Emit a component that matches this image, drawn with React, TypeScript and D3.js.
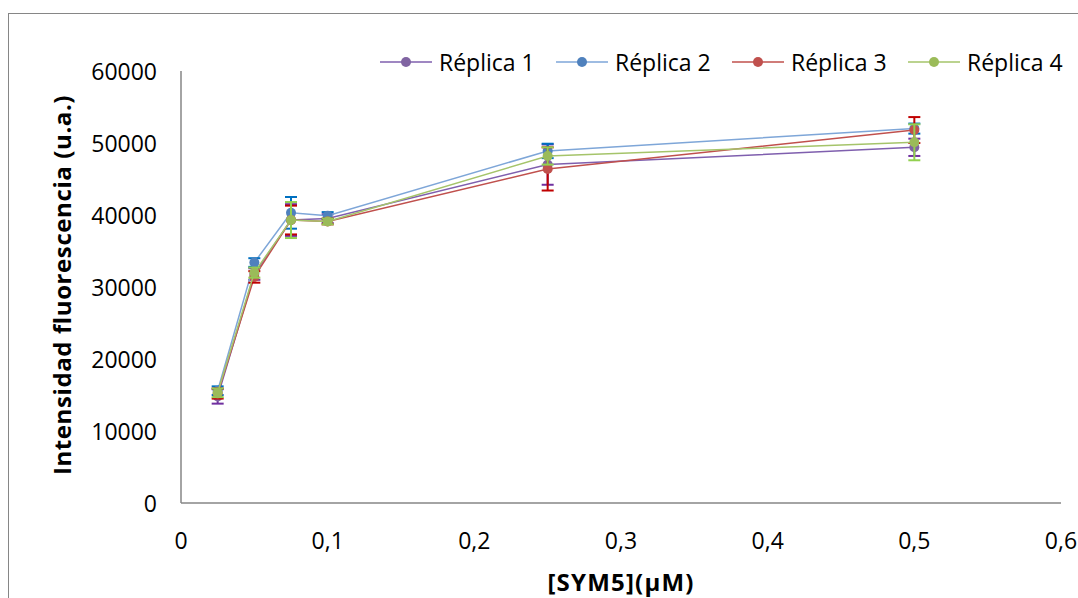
import React from "react";
import * as d3 from "d3";

const xValues = [0.025, 0.05, 0.075, 0.1, 0.25, 0.5];
const seriesNames = ["Réplica 1", "Réplica 2", "Réplica 3", "Réplica 4"];
const replica1 = [14800, 31800, 39300, 39500, 47000, 49400];
const replica2 = [15600, 33400, 40300, 39900, 48900, 52000];
const replica3 = [15200, 31400, 39300, 39100, 46400, 51800];
const replica4 = [15300, 32000, 39300, 39100, 48200, 50100];
const err1 = [1000, 800, 2200, 600, 2800, 1200];
const err2 = [600, 600, 2200, 500, 1000, 700];
const err3 = [700, 800, 2000, 400, 3000, 1800];
const err4 = [600, 700, 2500, 400, 1200, 2500];
const xTicks = [0, 0.1, 0.2, 0.3, 0.4, 0.5, 0.6];
const yTicks = [0, 10000, 20000, 30000, 40000, 50000, 60000];

const lineColors = ["#8064A2", "#4F81BD", "#C0504D", "#9BBB59"];
const strokeColors = ["#7F5FAE", "#7EA6D8", "#C0504D", "#A5C46A"];
const errColors = ["#7030A0", "#0070C0", "#C00000", "#92D050"];

const FONT = "'Open Sans', sans-serif";

export default function App() {
  const W = 1078, H = 598;
  const x = d3.scaleLinear().domain([0, 0.6]).range([181, 1061]);
  const y = d3.scaleLinear().domain([0, 60000]).range([503, 71]);
  const allVals = [replica1, replica2, replica3, replica4];
  const allErr = [err1, err2, err3, err4];
  const line = d3.line<[number, number]>().x(d => x(d[0])).y(d => y(d[1]));
  const fmtX = (v: number) => (v === 0 ? "0" : d3.format(".1f")(v).replace(".", ","));

  return (
    <svg width={W} height={H} style={{ position: "absolute", left: 0, top: 0, background: "#fff" }}>
      <rect x={0} y={0} width={W} height={H} fill="#fff" />
      <rect x={8.5} y={13.5} width={1100} height={620} fill="none" stroke="#868686" strokeWidth={1} />
      {/* axes */}
      <line x1={181} x2={181} y1={y(60000)} y2={y(0)} stroke="#868686" strokeWidth={1.5} />
      <line x1={181} x2={1061} y1={y(0)} y2={y(0)} stroke="#868686" strokeWidth={1.5} />
      {yTicks.map(t => (
        <text key={"y" + t} x={157} y={y(t)} textAnchor="end" dominantBaseline="central" fontFamily={FONT} fontSize={23} fill="#000">{t}</text>
      ))}
      {xTicks.map(t => (
        <text key={"x" + t} x={x(t)} y={540} textAnchor="middle" dominantBaseline="central" fontFamily={FONT} fontSize={23} fill="#000">{fmtX(t)}</text>
      ))}
      <text x={x(0.3)} y={581} textAnchor="middle" dominantBaseline="central" fontFamily={FONT} fontSize={24} letterSpacing={1.2} fontWeight="bold" fill="#000">[SYM5](µM)</text>
      <text transform={`translate(61,${y(30000) - 2}) rotate(-90)`} textAnchor="middle" dominantBaseline="central" fontFamily={FONT} fontSize={24} letterSpacing={0.6} fontWeight="bold" fill="#000">Intensidad fluorescencia (u.a.)</text>
      {/* series */}
      {allVals.map((vals, si) => {
        const pts: [number, number][] = xValues.map((xv, i) => [xv, vals[i]]);
        return (
          <g key={"s" + si}>
            <path d={line(pts) || ""} fill="none" stroke={strokeColors[si]} strokeWidth={1.5} />
            {pts.map((p, i) => {
              const e = allErr[si][i];
              const cx = x(p[0]);
              return (
                <g key={"e" + i} stroke={errColors[si]} strokeWidth={2}>
                  <line x1={cx} x2={cx} y1={y(p[1] - e)} y2={y(p[1] + e)} />
                  <line x1={cx - 6} x2={cx + 6} y1={y(p[1] - e)} y2={y(p[1] - e)} />
                  <line x1={cx - 6} x2={cx + 6} y1={y(p[1] + e)} y2={y(p[1] + e)} />
                </g>
              );
            })}
            {pts.map((p, i) => (
              <circle key={"m" + i} cx={x(p[0])} cy={y(p[1])} r={5} fill={lineColors[si]} />
            ))}
          </g>
        );
      })}
      {/* legend */}
      {seriesNames.map((n, i) => {
        const lx = 380 + i * 176;
        return (
          <g key={"l" + i}>
            <line x1={lx} x2={lx + 52} y1={62} y2={62} stroke={strokeColors[i]} strokeWidth={1.5} />
            <circle cx={lx + 26} cy={62} r={5} fill={lineColors[i]} />
            <text x={lx + 59} y={62} dominantBaseline="central" fontFamily={FONT} fontSize={23} fill="#000">{n}</text>
          </g>
        );
      })}
    </svg>
  );
}
